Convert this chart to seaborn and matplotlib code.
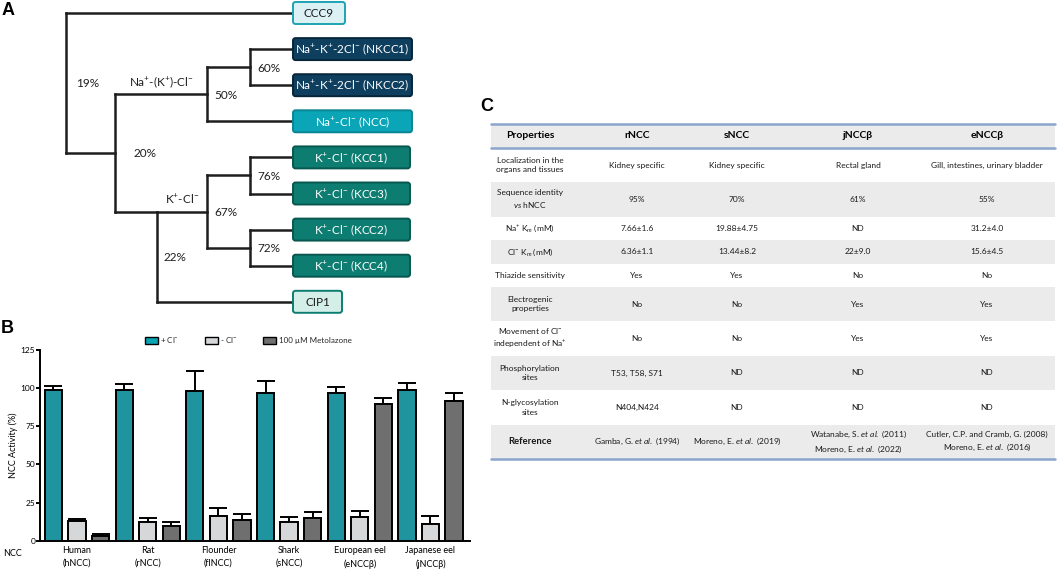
import numpy as np
import pandas as pd
import matplotlib.pyplot as plt
import seaborn as sns
from matplotlib.patches import FancyBboxPatch, Rectangle, Patch

# ---- B: NCC activity (%), bar height and upper error
species = ['Human\n(hNCC)', 'Rat\n(rNCC)', 'Flounder\n(flNCC)', 'Shark\n(sNCC)',
           'European eel\n(eNCCβ)', 'Japanese eel\n(jNCCβ)']
conditions = ['+ Cl$^{-}$', '- Cl$^{-}$', '100 µM Metolazone']
plus_cl = [99, 99, 98, 97, 96.5, 98.5]
plus_cl_err = [2.5, 4, 13, 7.5, 4, 5]
minus_cl = [13, 12.5, 16.5, 12.5, 15.5, 11]
minus_cl_err = [1.5, 2.5, 5, 3, 4, 5.5]
metolazone = [3, 9.5, 13.5, 15, 89.5, 91.5]
metolazone_err = [1.5, 2.5, 4, 4, 4, 5]
y_ticks = [0, 25, 50, 75, 100, 125]

# ---- A: CCC family tree (leaves listed top to bottom)
leaf_labels = {
    'CCC9': 'CCC9',
    'NKCC1': 'Na$^{+}$-K$^{+}$-2Cl$^{-}$ (NKCC1)',
    'NKCC2': 'Na$^{+}$-K$^{+}$-2Cl$^{-}$ (NKCC2)',
    'NCC': 'Na$^{+}$-Cl$^{-}$ (NCC)',
    'KCC1': 'K$^{+}$-Cl$^{-}$ (KCC1)',
    'KCC3': 'K$^{+}$-Cl$^{-}$ (KCC3)',
    'KCC2': 'K$^{+}$-Cl$^{-}$ (KCC2)',
    'KCC4': 'K$^{+}$-Cl$^{-}$ (KCC4)',
    'CIP1': 'CIP1',
}
leaf_group = {'CCC9': 'ccc9', 'NKCC1': 'nkcc', 'NKCC2': 'nkcc', 'NCC': 'ncc',
              'KCC1': 'kcc', 'KCC3': 'kcc', 'KCC2': 'kcc', 'KCC4': 'kcc', 'CIP1': 'cip'}
tree = {'pct': '19%', 'depth': 0, 'children': [
    'CCC9',
    {'pct': '20%', 'depth': 1, 'children': [
        {'pct': '50%', 'depth': 3, 'clade': 'Na$^{+}$-(K$^{+}$)-Cl$^{-}$', 'children': [
            {'pct': '60%', 'depth': 4, 'children': ['NKCC1', 'NKCC2']},
            'NCC']},
        {'pct': '22%', 'depth': 2, 'clade': 'K$^{+}$-Cl$^{-}$', 'anchor': 'first', 'children': [
            {'pct': '67%', 'depth': 3, 'children': [
                {'pct': '76%', 'depth': 4, 'children': ['KCC1', 'KCC3']},
                {'pct': '72%', 'depth': 4, 'children': ['KCC2', 'KCC4']}]},
            'CIP1']},
    ]},
]}

# ---- C: properties table
col_headers = ['Properties', 'rNCC', 'sNCC', 'jNCCβ', 'eNCCβ']
properties = ['Localization in the\norgans and tissues', 'Sequence identity\n$\\it{vs}$ hNCC',
              'Na$^{+}$ K$_{m}$ (mM)', 'Cl$^{-}$ K$_{m}$ (mM)', 'Thiazide sensitivity',
              'Electrogenic\nproperties', 'Movement of Cl$^{-}$\nindependent of Na$^{+}$',
              'Phosphorylation\nsites', 'N-glycosylation\nsites', 'Reference']
rncc = ['Kidney specific', '95%', '7.66±1.6', '6.36±1.1', 'Yes', 'No', 'No',
        'T53, T58, S71', 'N404,N424', 'Gamba, G. $\\it{et\\ al.}$ (1994)']
sncc = ['Kidney specific', '70%', '19.88±4.75', '13.44±8.2', 'Yes', 'No', 'No',
        'ND', 'ND', 'Moreno, E. $\\it{et\\ al.}$ (2019)']
jnccb = ['Rectal gland', '61%', 'ND', '22±9.0', 'No', 'Yes', 'Yes', 'ND', 'ND',
         'Watanabe, S. $\\it{et\\ al.}$ (2011)\nMoreno, E. $\\it{et\\ al.}$ (2022)']
enccb = ['Gill, intestines, urinary bladder', '55%', '31.2±4.0', '15.6±4.5', 'No', 'Yes', 'Yes',
         'ND', 'ND', 'Cutler, C.P. and Cramb, G. (2008)\nMoreno, E. $\\it{et\\ al.}$ (2016)']

sns.set_theme(style='ticks', context='paper')
plt.rcParams['font.family'] = ['Lato', 'DejaVu Sans']
plt.rcParams['mathtext.fontset'] = 'custom'
plt.rcParams['mathtext.rm'] = 'Lato'
plt.rcParams['mathtext.it'] = 'Lato:italic'
plt.rcParams['mathtext.bf'] = 'Lato:bold'

W, H = 1059, 572
fig = plt.figure(figsize=(W / 100, H / 100), dpi=100)
# pixel-coordinate overlay for the tree, the table and panel letters
ov = fig.add_axes([0, 0, 1, 1])
ov.set_xlim(0, W)
ov.set_ylim(H, 0)
ov.axis('off')

ink = '#1e1e1e'
for letter, x, y in [('A', 2, 15), ('B', 1, 333), ('C', 480, 111)]:
    ov.text(x, y, letter, fontsize=13, fontweight='bold', family='Liberation Sans',
            ha='left', va='baseline', color='black')

# ---- panel A
box_style = {
    'ccc9': dict(fc='#dcf1f4', ec='#1ea3b3', tc='#1a1a1a', w=52),
    'nkcc': dict(fc='#0e3f5e', ec='#07263a', tc='white', w=119),
    'ncc': dict(fc='#0aa6b7', ec='#0a8593', tc='white', w=119),
    'kcc': dict(fc='#0d7d71', ec='#08574f', tc='white', w=117),
    'cip': dict(fc='#d4efe8', ec='#0d7d71', tc='#1a1a1a', w=49),
}
col_x = [66, 115, 157, 207, 250]
pct_dx = {'19%': 10, '20%': 18}
leaf_x, row0, row_h, box_h = 293, 13, 36.1, 22
lw_tree = 1.8
leaf_i = [0]
node_y = {}


def draw_leaf(name):
    y = row0 + row_h * leaf_i[0]
    leaf_i[0] += 1
    st = box_style[leaf_group[name]]
    ov.add_patch(FancyBboxPatch((leaf_x, y - box_h / 2), st['w'], box_h,
                                boxstyle='round,pad=0,rounding_size=2.5',
                                fc=st['fc'], ec=st['ec'], lw=1.4, zorder=3))
    ov.text(leaf_x + st['w'] / 2, y + 0.5, leaf_labels[name], color=st['tc'],
            fontsize=8.5, ha='center', va='center', zorder=4)
    return leaf_x, y


def walk(node):
    if isinstance(node, str):
        return draw_leaf(node)
    pos = [walk(c) for c in node['children']]
    x = col_x[node['depth']]
    ys = [p[1] for p in pos]
    ov.plot([x, x], [ys[0], ys[-1]], color=ink, lw=lw_tree, solid_capstyle='projecting')
    for cx, cy in pos:
        ov.plot([x, cx], [cy, cy], color=ink, lw=lw_tree, solid_capstyle='projecting', zorder=2)
    ov.text(x + pct_dx.get(node['pct'], 7), (ys[0] + ys[-1]) / 2 + 1, node['pct'],
            fontsize=8.5, color=ink, ha='left', va='center')
    y = ys[0] if node.get('anchor') == 'first' else (ys[0] + ys[-1]) / 2
    node_y[id(node)] = y
    return x, y


def draw_clades(node, parent_x=None):
    if isinstance(node, str):
        return
    x = col_x[node['depth']]
    for c in node['children']:
        draw_clades(c, x)
    if 'clade' in node:
        if node.get('anchor') == 'first':
            mid = (x + col_x[node['children'][0]['depth']]) / 2
        else:
            mid = (parent_x + x) / 2
        ov.text(mid, node_y[id(node)] - 12, node['clade'], fontsize=8.5, color=ink,
                ha='center', va='center')


walk(tree)
draw_clades(tree)

# ---- panel B
df = pd.DataFrame({
    'species': species * 3,
    'condition': np.repeat(conditions, len(species)),
    'activity': plus_cl + minus_cl + metolazone,
})
errs = [plus_cl_err, minus_cl_err, metolazone_err]
bar_colors = ['#0aa5b4', '#d5d7d9', '#6f6f6f']

axB = fig.add_axes([40 / W, (H - 540.7) / H, 430 / W, 190.7 / H])
axB.set_facecolor('none')
sns.barplot(data=df, x='species', y='activity', hue='condition', palette=bar_colors,
            edgecolor='black', linewidth=1.4, width=1.0, gap=0.27, errorbar=None,
            legend=False, ax=axB, zorder=3)
for cont, err in zip(axB.containers, errs):
    for bar, e in zip(cont, err):
        xc = bar.get_x() + bar.get_width() / 2
        axB.errorbar(xc, bar.get_height(), yerr=[[0], [e]], color='black', elinewidth=1.4,
                     capsize=6.5, capthick=1.4, zorder=2)
axB.set_xlim(-0.523, 5.559)
axB.set_ylim(0, 125)
axB.set_yticks(y_ticks)
axB.set_xlabel('')
axB.set_ylabel('NCC Activity (%)', fontsize=6.5, labelpad=2, color='black')
sns.despine(ax=axB)
for s in ['left', 'bottom']:
    axB.spines[s].set_linewidth(1.4)
    axB.spines[s].set_color('black')
axB.tick_params(axis='y', length=3, width=1.4, pad=0.5, labelsize=6, colors='black')
axB.tick_params(axis='x', length=0, pad=4, labelsize=6.5, colors='black')
for t in axB.get_xticklabels():
    t.set_linespacing(1.5)
ov.text(3, 553, 'NCC', fontsize=6.5, ha='left', va='center', color='black')

handles = [Patch(fc=c, ec='black', lw=1.0) for c in bar_colors]
axB.legend(handles, conditions, ncol=3, loc='center left', frameon=False,
           bbox_to_anchor=(145 / W, 1 - 340 / H), bbox_transform=fig.transFigure,
           borderpad=0, borderaxespad=0, handlelength=1.6, handleheight=1.0,
           handletextpad=0.3, columnspacing=3.2, fontsize=5.8)

# ---- panel C
col_centers = [530, 637, 737, 858, 987]
tbl_left, tbl_right = 491, 1055
band = '#ebebeb'
rule = '#8aa5cc'
y = 124
ov.add_patch(Rectangle((tbl_left, y), tbl_right - tbl_left, 24, fc=band, ec='none'))
for cx, h in zip(col_centers, col_headers):
    ov.text(cx, y + 12, h, fontsize=7.5, fontweight='bold', ha='center', va='center',
            color='black')
ov.plot([tbl_left, tbl_right], [y, y], color=rule, lw=1.8)
y += 24
ov.plot([tbl_left, tbl_right], [y, y], color=rule, lw=1.8, zorder=3)
columns = [properties, rncc, sncc, jnccb, enccb]
for i in range(len(properties)):
    cells = [col[i] for col in columns]
    nl = max(c.count('\n') + 1 for c in cells)
    h = 12.4 + 11 * nl
    if i % 2 == 1:
        ov.add_patch(Rectangle((tbl_left, y), tbl_right - tbl_left, h, fc=band, ec='none'))
    for j, (cx, c) in enumerate(zip(col_centers, cells)):
        bold = (j == 0 and properties[i] == 'Reference')
        ov.text(cx, y + h / 2, c, fontsize=6.8 if bold else 6,
                fontweight='bold' if bold else 'normal', ha='center', va='center',
                linespacing=1.4, color='#1a1a1a')
    y += h
ov.plot([tbl_left, tbl_right], [y, y], color=rule, lw=1.8)

fig.savefig('out.png', dpi=100)
